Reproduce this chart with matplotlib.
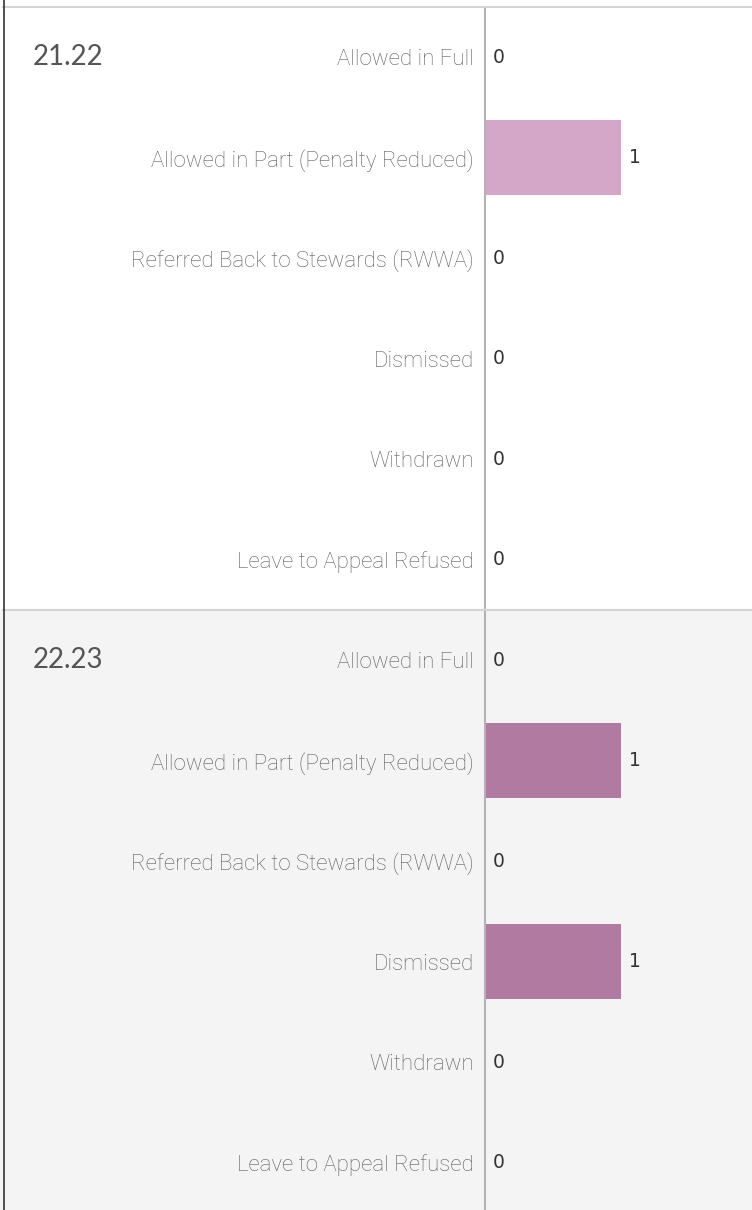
import matplotlib
matplotlib.use("Agg")
import matplotlib.pyplot as plt
from matplotlib.patches import Rectangle
from matplotlib.lines import Line2D

seasons = ["21.22", "22.23"]
outcomes = [
    "Allowed in Full",
    "Allowed in Part (Penalty Reduced)",
    "Referred Back to Stewards (RWWA)",
    "Dismissed",
    "Withdrawn",
    "Leave to Appeal Refused",
]
values_2122 = [0, 1, 0, 0, 0, 0]
values_2223 = [0, 1, 0, 1, 0, 0]
bar_colors = ["#d4a6c8", "#b07aa1"]
panel_bg = ["#ffffff", "#f4f4f4"]

W, H = 752, 1210
fig = plt.figure(figsize=(W / 100, H / 100), dpi=100)
fig.patch.set_facecolor("white")

label_font = ["Roboto", "DejaVu Sans"]
year_font = ["Lato", "DejaVu Sans"]
value_font = ["DejaVu Sans"]

axis_x = 485
panel_top = [7, 610]
panel_h = 603

# background for second panel
fig.patches.append(Rectangle((0, 0), 1, (H - panel_top[1]) / H, transform=fig.transFigure,
                             facecolor=panel_bg[1], edgecolor="none", zorder=-5))

all_vals = [values_2122, values_2223]
for i, (season, vals) in enumerate(zip(seasons, all_vals)):
    top = panel_top[i]
    ax = fig.add_axes([axis_x / W, (H - top - panel_h) / H, (W - axis_x) / W, panel_h / H])
    ax.set_zorder(1)
    ax.set_facecolor(panel_bg[i])
    ypos = list(range(len(outcomes)))
    ax.barh(ypos, vals, height=0.75, color=bar_colors[i], zorder=2)
    ax.set_ylim(len(outcomes) - 0.5, -0.5)
    ax.set_xlim(0, (W - axis_x) / 136)
    ax.set_yticks(ypos)
    ax.set_yticklabels(outcomes, fontfamily=label_font, fontsize=16, color="#5f5f5f",
                       fontweight="light")
    ax.tick_params(axis="y", length=0, pad=8)
    ax.set_xticks([])
    for s in ["top", "right", "bottom"]:
        ax.spines[s].set_visible(False)
    ax.spines["left"].set_color("#b3b3b3")
    ax.spines["left"].set_linewidth(1.5)
    for y, v in zip(ypos, vals):
        ax.annotate(str(v), xy=(v, y), xytext=(5.5, 0), textcoords="offset points",
                    ha="left", va="center", fontsize=13.5, color="#333333",
                    fontfamily=value_font)
    fig.text(33 / W, 1 - (top + 50) / H, season, ha="left", va="center",
             fontsize=20, color="#555555", fontfamily=year_font, zorder=3)

# separators and border
for yy in panel_top:
    fig.add_artist(Line2D([3 / W, 1], [1 - yy / H, 1 - yy / H], transform=fig.transFigure,
                          color="#d4d4d4", linewidth=1.5, zorder=5))
fig.add_artist(Line2D([3.5 / W, 3.5 / W], [0, 1], transform=fig.transFigure,
                      color="#333333", linewidth=1.2, zorder=5))

fig.savefig("out.png", dpi=100)
